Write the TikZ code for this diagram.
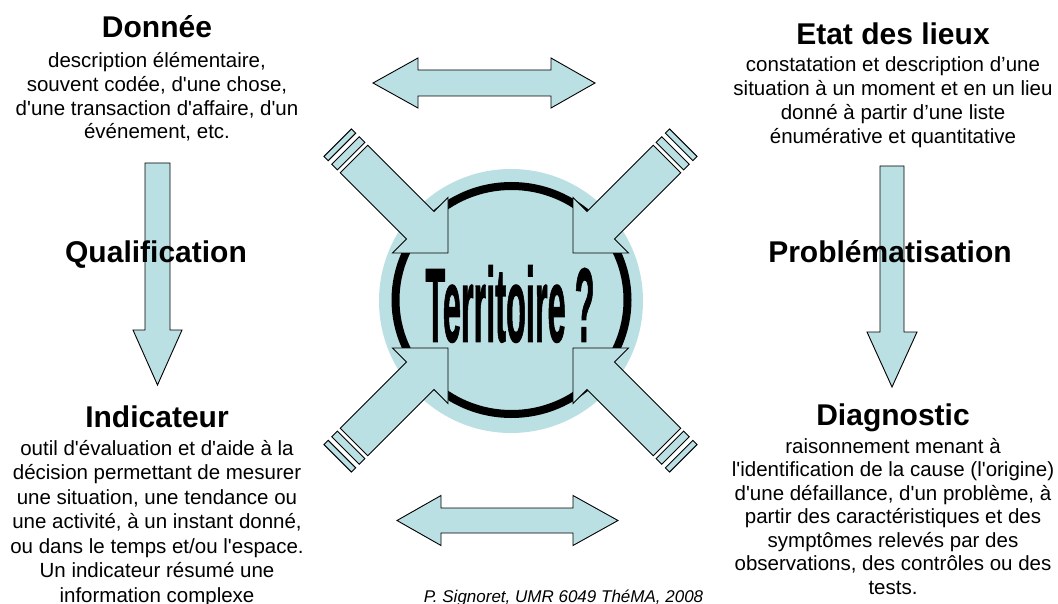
\documentclass[tikz,border=0pt]{standalone}
\usepackage{fontspec}
\setmainfont{Liberation Sans}
\definecolor{pblue}{HTML}{BBE0E3}
\newcommand{\myq}{\textquotesingle}
\begin{document}
\begin{tikzpicture}[x=1pt,y=-1pt,
  blk/.style={fill=pblue, draw=black, line width=0.9pt, line join=miter},
  ttl/.style={font=\fontsize{30}{36}\selectfont\bfseries, inner sep=0pt, anchor=base},
  bodyA/.style={font=\fontsize{20.5}{23.7}\selectfont, align=center, inner sep=0pt, anchor=base},
  bodyB/.style={font=\fontsize{20.5}{24.5}\selectfont, align=center, inner sep=0pt, anchor=base},
]
\useasboundingbox (0,0) rectangle (1058,604);

% central disc and ring
\coordinate (ctr) at (511,301);
\fill[pblue] (ctr) circle[radius=132pt];
\draw[line width=8pt] (511.5,300) ellipse[x radius=116pt, y radius=114pt];
\node[inner sep=0pt, font=\fontsize{50}{50}\selectfont\bfseries\addfontfeature{FakeBold=1.5}] (terr) at (510,304)
  {\scalebox{0.65}[2.1]{Territoire ?}};

% diagonal striped arrows
\coordinate (tipTL) at (448,253);
\coordinate (tipTR) at (573,253);
\coordinate (tipBL) at (448,348);
\coordinate (tipBR) at (573,348);
\foreach \t/\ux/\uy/\vx/\vy in {TL/0.7071/-0.7071/0.7071/0.7071,
                                TR/-0.7071/-0.7071/-0.7071/0.7071,
                                BL/0.7071/0.7071/-0.7071/0.7071,
                                BR/-0.7071/0.7071/0.7071/0.7071}{
  \begin{scope}[shift={(tip\t)}, x={(\ux pt,\uy pt)}, y={(\vx pt,\vy pt)}]
    \draw[blk] (0,0) -- (-39.2,39.2) -- (-39.2,19.5) -- (-133,19.5) -- (-133,-19.5)
      -- (-39.2,-19.5) -- (-39.2,-39.2) -- cycle;
    \draw[blk] (-137,-19.5) -- (-145,-19.5) -- (-145,19.5) -- (-137,19.5) -- cycle;
    \draw[blk] (-150,-19.5) -- (-156,-19.5) -- (-156,19.5) -- (-150,19.5) -- cycle;
  \end{scope}
}

% vertical arrows
\coordinate (qtop) at (157.5,163);
\begin{scope}[shift={(qtop)}]
  \draw[blk] (-12.5,0) -- (12.5,0) -- (12.5,167) -- (24.5,167) -- (0,222) -- (-24.5,167) -- (-12.5,167) -- cycle;
\end{scope}
\coordinate (ptop) at (892,166);
\begin{scope}[shift={(ptop)}]
  \draw[blk] (-12,0) -- (12,0) -- (12,166) -- (25,166) -- (0,221) -- (-25,166) -- (-12,166) -- cycle;
\end{scope}

% horizontal double arrows
\coordinate (htop) at (484,83);
\begin{scope}[shift={(htop)}]
  \draw[blk] (-111,0) -- (-66,-25) -- (-66,-13) -- (67,-13) -- (67,-25) -- (111,0)
    -- (67,25) -- (67,13) -- (-66,13) -- (-66,25) -- cycle;
\end{scope}
\coordinate (hbot) at (507.5,520.5);
\begin{scope}[shift={(hbot)}]
  \draw[blk] (-110.5,0) -- (-66.5,-25) -- (-66.5,-12.5) -- (65.5,-12.5) -- (65.5,-25) -- (110.5,0)
    -- (65.5,25) -- (65.5,12.5) -- (-66.5,12.5) -- (-66.5,25) -- cycle;
\end{scope}

% texts (multi-line nodes: base anchor = last line)
\node[ttl] (donnee) at (157,38) {Donnée};
\node[bodyA] (donneeTxt) at (157,139) {description élémentaire,\\souvent codée, d\myq une chose,\\d\myq une transaction d\myq affaire, d\myq un\\événement, etc.};

\node[ttl] (etat) at (893,45) {Etat des lieux};
\node[font=\fontsize{20.5}{24}\selectfont, align=center, inner sep=0pt, anchor=base] (etatTxt) at (893,144)
  {constatation et description d’une\\situation à un moment et en un lieu\\donné à partir d’une liste\\énumérative et quantitative};

\node[ttl] (qualif) at (156,262) {Qualification};
\node[ttl] (probl) at (890,262) {Problématisation};

\node[ttl] (indic) at (157,427) {Indicateur};
\node[bodyB] (indicTxt) at (157,602) {outil d\myq évaluation et d\myq aide à la\\décision permettant de mesurer\\une situation, une tendance ou\\une activité, à un instant donné,\\ou dans le temps et/ou l\myq espace.\\Un indicateur résumé une\\information complexe};

\node[ttl] (diag) at (893,425) {Diagnostic};
\node[font=\fontsize{20.5}{23.5}\selectfont, align=center, inner sep=0pt, anchor=base] (diagTxt) at (893,594)
  {raisonnement menant à\\l\myq identification de la cause (l\myq origine)\\d\myq une défaillance, d\myq un problème, à\\partir des caractéristiques et des\\symptômes relevés par des\\observations, des contrôles ou des\\tests.};

\node[font=\fontsize{17}{20}\selectfont\itshape, inner sep=0pt, anchor=base] (author) at (563.5,602)
  {P. Signoret, UMR 6049 ThéMA, 2008};
\end{tikzpicture}
\end{document}
